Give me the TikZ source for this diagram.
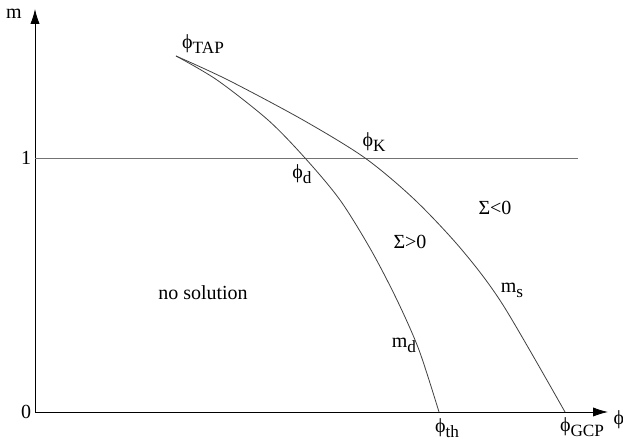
\documentclass[tikz,border=0pt]{standalone}
\usepackage{fontspec}
\setmainfont{Liberation Serif}
\usetikzlibrary{arrows.meta}
\newcommand{\lowsub}[1]{\raisebox{-0.55ex}{\fontsize{8.6}{9}\selectfont #1}}

\begin{document}
\begin{tikzpicture}[
  x=0.5pt,y=0.5pt,
  axis/.style={-{Latex[length=2.6mm,width=1.6mm]},thin},
  branch/.style={draw=black!75,line width=0.4pt},
  lbl/.style={inner sep=0pt,font=\normalsize}
]
\useasboundingbox (0,0) rectangle (623,442);
% axes
\coordinate (origin) at (35,30);
\coordinate (ytop) at (35,433);
\coordinate (xend) at (608,30);
\draw[axis] (origin) -- (ytop);
\draw[axis] (origin) -- (xend);
\node[lbl] (mlab) at (14,428) {m};
\node[lbl] (philab) at (619,22) {ϕ};
\node[lbl] (zero) at (26,30) {0};
\node[lbl] (one) at (26,284) {1};
\coordinate (oneleft) at (35,284);
\coordinate (oneright) at (578,284);
\draw[black!55] (oneleft) -- (oneright);
% the two branches
\draw[branch] plot[smooth,tension=0.5] coordinates {(176,386) (217,362) (268,322) (305,284) (340,242) (371,192) (397,142) (419,92) (439,30)};
\draw[branch] plot[smooth,tension=0.5] coordinates {(176,386) (228,362) (303,322) (365,284) (415,242) (462,192) (503,137) (565,30)};
% labels
\node[lbl] (tap) at (203,398) {ϕ\lowsub{TAP}};
\node[lbl] (kauz) at (374,300) {ϕ\lowsub{K}};
\node[lbl] (dyn) at (302,268) {ϕ\lowsub{d}};
\node[lbl] (negsig) at (495,234) {Σ<0};
\node[lbl] (possig) at (410,200) {Σ>0};
\node[lbl] (nosol) at (203,149) {no solution};
\node[lbl] (ms) at (512,152) {m\lowsub{s}};
\node[lbl] (md) at (404,97) {m\lowsub{d}};
\node[lbl] (th) at (447,14) {ϕ\lowsub{th}};
\node[lbl] (gcp) at (582,15) {ϕ\lowsub{GCP}};
\end{tikzpicture}
\end{document}
